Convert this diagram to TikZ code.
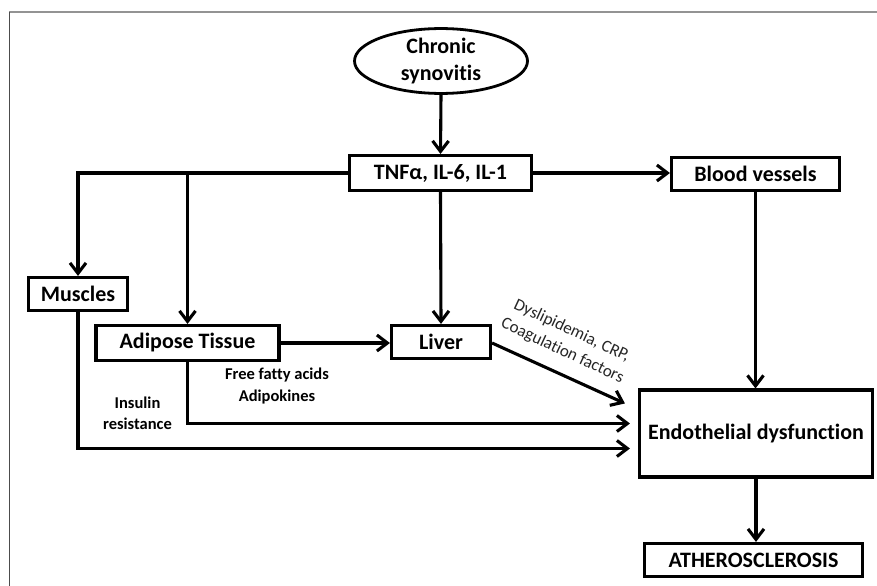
\documentclass[tikz,border=0pt]{standalone}
\usepackage{fontspec}
\setmainfont{Carlito}[Ligatures=NoCommon]
\usetikzlibrary{arrows.meta,shapes.geometric,calc}
\tikzset{
  box/.style={draw, line width=3.1bp, inner sep=0pt, align=center,
    font=\fontsize{22bp}{27bp}\selectfont\bfseries},
  ell/.style={draw, ellipse, line width=2.8bp, inner sep=0pt, align=center,
    font=\fontsize{22bp}{27bp}\selectfont\bfseries},
  arr/.style={line width=3.1bp, -{Straight Barb[length=10.5bp,width=16bp]}},
  lbl/.style={align=center, inner sep=0pt, font=\fontsize{16.5bp}{21.5bp}\selectfont\bfseries},
  rlbl/.style={align=center, inner sep=0pt, text=black!85, font=\fontsize{17bp}{22bp}\selectfont}
}
\begin{document}
\begin{tikzpicture}[x=1bp,y=-1bp]
\useasboundingbox (0,0) rectangle (877,586);
% frame
\draw[gray!85, line width=1.6bp] (9,12) -- (877,12);
\draw[black!70, line width=1bp] (9.5,12) -- (9.5,586);
% nodes
\node[ell, minimum width=173bp, minimum height=59bp] (syn) at (441,61) {Chronic\\synovitis};
\node[box, minimum width=182bp, minimum height=35bp] (tnf) at (440.5,173) {TNFα, IL-6, IL-1};
\node[box, minimum width=168bp, minimum height=33bp] (blood) at (755.5,174) {Blood vessels};
\node[box, minimum width=99bp, minimum height=33bp] (mus) at (78,294) {Muscles};
\node[box, minimum width=183bp, minimum height=35bp] (adi) at (187.5,343) {Adipose Tissue};
\node[box, minimum width=99bp, minimum height=33bp] (liver) at (441,342) {Liver};
\node[box, minimum width=233bp, minimum height=87bp] (endo) at (756,433.5) {Endothelial dysfunction};
\node[box, minimum width=218bp, minimum height=33bp] (ath) at (753.5,560) {ATHEROSCLEROSIS};
% labels
\node[lbl] (ffa) at (277,386) {Free fatty acids\\Adipokines};
\node[lbl] (ins) at (137.5,413.5) {Insulin\\resistance};
\node[rlbl, rotate=-25] (dys) at (567,341) {Dyslipidemia, CRP,\\Coagulation factors};
% connectors
\draw[arr] (syn.south) -- (tnf.north);
\draw[arr] (tnf.west) -| (mus.north);
\draw[arr] (adi.north |- tnf.west) -- (adi.north);
\draw[arr] (tnf.south) -- (liver.north);
\draw[arr] (tnf.east) -- (blood.west |- tnf.east);
\draw[arr] (adi.east) -- (liver.west |- adi.east);
\draw[arr] (blood.south) -- (blood.south |- endo.north);
\draw[arr] (endo.south) -- (endo.south |- ath.north);
\coordinate (tipL) at ($(endo.north west)+(-13,15)$);
\draw[arr] ($(liver.east)+(0,1)$) -- (tipL);
\draw[arr, shorten >=8bp] (adi.south) |- ($(endo.west)+(0,-10)$);
\draw[arr, shorten >=8bp] (mus.south) |- ($(endo.west)+(0,15)$);
\end{tikzpicture}
\end{document}
